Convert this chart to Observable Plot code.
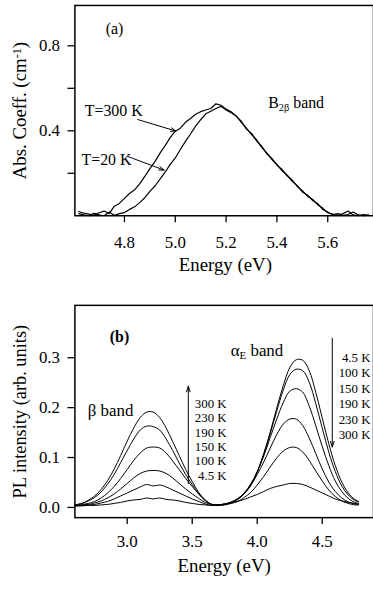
<!DOCTYPE html>
<html><head><meta charset="utf-8">
<script src="https://cdn.jsdelivr.net/npm/d3@7"></script>
<script src="https://cdn.jsdelivr.net/npm/@observablehq/plot@0.6"></script>
<style>
html,body{margin:0;padding:0;background:#fff;overflow:hidden;width:373px;height:591px;}
svg{display:block;}
svg text{font-family:"Liberation Serif","Times New Roman",serif !important;}
</style></head><body>
<div id="a"></div><div id="b"></div>
<script>
// ---------- Panel (a): absorption coefficient ----------
const energyA = [4.62,4.64,4.66,4.68,4.70,4.72,4.74,4.76,4.78,4.80,4.82,4.84,4.86,4.88,4.90,4.92,4.94,4.96,4.98,5.00,
  5.02,5.04,5.06,5.08,5.10,5.12,5.14,5.16,5.18,5.20,5.22,5.24,5.26,5.28,5.30,5.32,5.34,5.36,5.38,5.40,
  5.42,5.44,5.46,5.48,5.50,5.52,5.54,5.56,5.58,5.60,5.62,5.64,5.66,5.68,5.70,5.72,5.74,5.76];
const abs300 = [.020,.012,.008,.003,.014,.022,.010,.045,.058,.082,.105,.122,.150,.185,.222,.255,.295,.330,.368,.398,
  .412,.440,.458,.478,.490,.498,.505,.527,.520,.502,.490,.468,.445,.408,.388,.352,.328,.292,.270,.238,
  .218,.188,.168,.138,.118,.092,.078,.052,.036,.014,.008,.002,.010,.022,.004,.000,.006,.002];
const abs20 = [.010,.004,.000,.012,.004,.000,.018,.002,.010,.015,.030,.042,.062,.085,.115,.140,.172,.205,.242,.272,
  .312,.350,.385,.422,.452,.480,.492,.505,.515,.498,.485,.470,.440,.412,.382,.358,.322,.296,.265,.242,
  .212,.192,.162,.142,.112,.098,.072,.058,.030,.018,.004,.010,.002,.006,.018,.004,.000,.004];
const xTicksA = [4.8, 5.0, 5.2, 5.4, 5.6];
const yTicksA = [0.2, 0.4, 0.6, 0.8];
const yLabelledA = [0.4, 0.8];
const titleA = {xLabel: "Energy (eV)", xLabelAt: [5.197, -0.234], yLabel: "Abs. Coeff. (cm^{-1})", yLabelAt: [4.390, 0.495]};
const panelLabelA = [{x: 4.761, y: 0.879, t: "(a)"}];
const notesA = [
  {x: 4.644, y: 0.495, t: "T=300 K"},
  {x: 4.631, y: 0.262, t: "T=20 K"},
  {x: 5.366, y: 0.533, t: "B_{2β} band"}
];
const arrowsA = [
  {x1: 4.852, y1: 0.453, x2: 5.002, y2: 0.399},
  {x1: 4.813, y1: 0.279, x2: 4.956, y2: 0.215}
];

// ---------- Panel (b): PL intensity ----------
const energyB = [2.60,2.65,2.70,2.75,2.80,2.85,2.90,2.95,3.00,3.05,3.10,3.15,3.20,3.25,3.30,3.35,3.40,3.45,3.50,3.55,
  3.60,3.65,3.70,3.75,3.80,3.85,3.90,3.95,4.00,4.05,4.10,4.15,4.20,4.25,4.30,4.35,4.40,4.45,4.50,4.55,
  4.60,4.65,4.70,4.75,4.78];
const pl4_5 = [.003,.003,.004,.004,.005,.006,.008,.010,.013,.015,.016,.019,.017,.019,.016,.015,.013,.010,.008,.006,
  .005,.004,.004,.006,.010,.016,.028,.046,.072,.108,.151,.199,.244,.280,.296,.295,.274,.231,.179,.128,
  .084,.051,.029,.016,.012];
const pl100 = [.003,.004,.005,.006,.009,.012,.017,.023,.029,.035,.041,.046,.043,.045,.041,.035,.029,.023,.017,.012,
  .007,.004,.005,.006,.010,.016,.027,.044,.071,.106,.148,.193,.235,.266,.277,.274,.251,.208,.159,.111,
  .072,.043,.025,.014,.011];
const pl150 = [.004,.005,.006,.009,.013,.019,.027,.037,.048,.059,.068,.073,.074,.073,.068,.059,.048,.037,.027,.018,
  .010,.006,.005,.007,.010,.017,.029,.047,.071,.103,.140,.177,.210,.233,.238,.231,.203,.164,.122,.084,
  .053,.032,.018,.010,.008];
const pl190 = [.004,.006,.008,.012,.019,.029,.042,.058,.076,.094,.109,.119,.121,.119,.109,.093,.076,.058,.042,.027,
  .014,.006,.005,.007,.011,.018,.028,.044,.066,.091,.119,.146,.167,.177,.177,.164,.139,.108,.077,.051,
  .032,.019,.011,.007,.006];
const pl230 = [.005,.008,.013,.020,.031,.047,.066,.090,.114,.137,.155,.163,.162,.155,.137,.114,.089,.066,.046,.027,
  .014,.006,.004,.005,.008,.012,.020,.030,.045,.062,.081,.099,.113,.120,.120,.111,.094,.073,.053,.035,
  .022,.013,.008,.005,.005];
const pl300 = [.005,.008,.014,.023,.036,.054,.077,.104,.133,.159,.180,.191,.191,.180,.159,.132,.104,.076,.052,.030,
  .015,.006,.005,.007,.009,.012,.016,.021,.026,.032,.038,.042,.045,.048,.048,.046,.041,.035,.029,.023,
  .017,.013,.010,.008,.007];
const seriesB = [pl4_5, pl100, pl150, pl190, pl230, pl300];
const xTicksB = [3.0, 3.5, 4.0, 4.5];
const yTicksB = [0.0, 0.1, 0.2, 0.3];
const titleB = {xLabel: "Energy (eV)", xLabelAt: [3.746, -0.118], yLabel: "PL intensity (arb. units)", yLabelAt: [2.178, 0.192]};
const panelLabelB = [{x: 2.941, y: 0.341, t: "(b)"}];
const notesB = [
  {x: 2.697, y: 0.194, t: "β band"},
  {x: 3.796, y: 0.315, t: "α_{E} band"}
];
const upLabels = ["300 K", "230 K", "190 K", "150 K", "100 K", "4.5 K"];
const upLabelY = [0.208, 0.179, 0.150, 0.122, 0.093, 0.064];
const downLabels = ["4.5 K", "100 K", "150 K", "190 K", "230 K", "300 K"];
const downLabelY = [0.300, 0.269, 0.238, 0.207, 0.176, 0.145];
const upLabelX = 3.765, downLabelX = 4.871;
const arrowsB = [
  {x1: 3.470, y1: 0.048, x2: 3.470, y2: 0.243},
  {x1: 4.577, y1: 0.339, x2: 4.577, y2: 0.121}
];

function richify(svg) {
  svg.querySelectorAll("text").forEach(t => {
    const s = t.textContent;
    if (!/[_^]\{/.test(s)) return;
    const parts = s.split(/([_^]\{[^}]*\})/).filter(Boolean);
    t.textContent = "";
    for (const p of parts) {
      const ts = document.createElementNS("http://www.w3.org/2000/svg", "tspan");
      const m = p.match(/^([_^])\{(.*)\}$/);
      if (m) {
        ts.textContent = m[2];
        ts.setAttribute("font-size", "0.65em");
        ts.setAttribute("baseline-shift", m[1] === "_" ? "-25%" : "45%");
      } else ts.textContent = p;
      t.appendChild(ts);
    }
  });
}

const style = {fontFamily: "'Liberation Serif', serif", fontSize: "17px", color: "#000", background: "#fff", overflow: "visible"};

const chartA = Plot.plot({
  width: 376, height: 290,
  marginLeft: 75, marginRight: 0, marginTop: 5, marginBottom: 73,
  style,
  x: {domain: [4.605, 5.780]},
  y: {domain: [0, 0.99]},
  marks: [
    Plot.axisX({ticks: xTicksA, tickFormat: d3.format(".1f"), tickSize: 7, tickPadding: 13, fontSize: 17, label: null, strokeWidth: 1.3}),
    Plot.axisY({ticks: yTicksA, tickFormat: d => yLabelledA.includes(d) ? d.toFixed(1) : "", tickSize: 7, tickPadding: 8, fontSize: 17, label: null, strokeWidth: 1.3}),
    Plot.line(energyA.map((e, i) => [e, abs300[i]]), {x: d => d[0], y: d => d[1], stroke: "#000", strokeWidth: 1.2}),
    Plot.line(energyA.map((e, i) => [e, abs20[i]]), {x: d => d[0], y: d => d[1], stroke: "#000", strokeWidth: 1.2}),
    Plot.frame({stroke: "#000", strokeWidth: 1.5}),
    Plot.text([titleA.yLabel], {x: () => titleA.yLabelAt[0], y: () => titleA.yLabelAt[1], text: d => d, rotate: -90, fontSize: 19, fill: "#000"}),
    Plot.text([titleA.xLabel], {x: () => titleA.xLabelAt[0], y: () => titleA.xLabelAt[1], text: d => d, fontSize: 19, fill: "#000"}),
    Plot.text(panelLabelA, {x: "x", y: "y", text: "t", fontSize: 16, fill: "#000"}),
    Plot.text(notesA, {x: "x", y: "y", text: "t", textAnchor: "start", fontSize: 16, fill: "#000"}),
    Plot.arrow(arrowsA, {x1: "x1", y1: "y1", x2: "x2", y2: "y2", stroke: "#000", strokeWidth: 1, headLength: 8, headAngle: 40})
  ]
});
richify(chartA);
document.getElementById("a").appendChild(chartA);

const lineMarks = seriesB.map(s => Plot.line(energyB.map((e, i) => [e, s[i]]), {x: d => d[0], y: d => d[1], stroke: "#000", strokeWidth: 1, curve: "catmull-rom"}));

const chartB = Plot.plot({
  width: 376, height: 301,
  marginLeft: 75, marginRight: 0, marginTop: 17, marginBottom: 70,
  style,
  x: {domain: [2.598, 4.894]},
  y: {domain: [-0.0205, 0.405]},
  marks: [
    Plot.axisX({ticks: xTicksB, tickFormat: d3.format(".1f"), tickSize: 7, tickPadding: 11, fontSize: 17, label: null, strokeWidth: 1.3}),
    Plot.axisY({ticks: yTicksB, tickFormat: d3.format(".1f"), tickSize: 7, tickPadding: 8, fontSize: 17, label: null, strokeWidth: 1.3}),
    ...lineMarks,
    Plot.frame({stroke: "#000", strokeWidth: 1.5}),
    Plot.text([titleB.yLabel], {x: () => titleB.yLabelAt[0], y: () => titleB.yLabelAt[1], text: d => d, rotate: -90, fontSize: 18.5, fill: "#000"}),
    Plot.text([titleB.xLabel], {x: () => titleB.xLabelAt[0], y: () => titleB.xLabelAt[1], text: d => d, fontSize: 19, fill: "#000"}),
    Plot.text(panelLabelB, {x: "x", y: "y", text: "t", fontWeight: "bold", fontSize: 16, fill: "#000"}),
    Plot.text(notesB, {x: "x", y: "y", text: "t", textAnchor: "start", fontSize: 17, fill: "#000"}),
    Plot.text(upLabels, {x: () => upLabelX, y: (d, i) => upLabelY[i], text: d => d, textAnchor: "end", fontSize: 13, fill: "#000"}),
    Plot.text(downLabels, {x: () => downLabelX, y: (d, i) => downLabelY[i], text: d => d, textAnchor: "end", fontSize: 13, fill: "#000"}),
    Plot.arrow(arrowsB, {x1: "x1", y1: "y1", x2: "x2", y2: "y2", stroke: "#000", strokeWidth: 1, headLength: 9, headAngle: 35})
  ]
});
richify(chartB);
document.getElementById("b").appendChild(chartB);
</script></body></html>
